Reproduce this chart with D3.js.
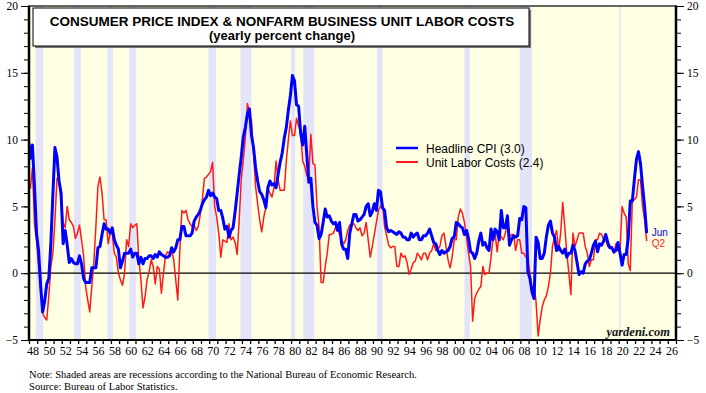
<!DOCTYPE html>
<html>
<head>
<meta charset="utf-8">
<script src="https://cdn.jsdelivr.net/npm/d3@7"></script>
<style>
  body { margin: 0; background: #fff; }
</style>
</head>
<body>
<div id="chart"></div>
<script>
// data: headline CPI (y/y %), sampled Mar/Jun/Sep/Dec, starting Dec 1947
const cpiStart = 1947 + 11 / 12;
const cpiStepMonths = 3;
const cpi = [
  10.1,
  8.6, 9.6, 6.5, 3.0,      // 1948
  1.7, -0.9, -2.9, -2.1,   // 1949
  -0.8, -0.4, 2.2, 5.9,    // 1950
  9.4, 8.7, 6.9, 6.0,      // 1951
  2.2, 3.2, 2.1, 0.8,      // 1952
  1.1, 0.8, 0.7, 0.7,      // 1953
  1.3, 0.7, -0.4, -0.7,    // 1954
  -0.7, -0.7, 0.4, 0.4,    // 1955
  0.4, 1.9, 2.0, 2.9,      // 1956
  3.7, 3.3, 3.3, 3.0,      // 1957
  3.4, 2.5, 2.1, 1.8,      // 1958
  0.4, 0.9, 1.5, 1.5,      // 1959
  1.5, 1.8, 1.2, 1.5,      // 1960
  1.5, 0.7, 1.2, 0.7,      // 1961
  1.1, 1.1, 1.3, 1.3,      // 1962
  1.1, 1.4, 1.2, 1.6,      // 1963
  1.4, 1.3, 1.2, 1.2,      // 1964
  1.3, 1.9, 1.6, 1.9,      // 1965
  2.5, 2.5, 3.5, 3.5,      // 1966
  2.8, 2.8, 2.8, 3.0,      // 1967
  3.9, 4.2, 4.4, 4.7,      // 1968
  5.2, 5.5, 5.7, 6.2,      // 1969
  5.8, 6.0, 5.7, 5.6,      // 1970
  4.7, 4.7, 4.1, 3.3,      // 1971
  3.5, 2.7, 3.2, 3.4,      // 1972
  4.6, 6.0, 7.4, 8.7,      // 1973
  10.2, 10.9, 11.9, 12.3,  // 1974
  10.3, 9.4, 7.9, 6.9,     // 1975
  6.1, 5.9, 5.5, 4.9,      // 1976
  6.4, 6.9, 6.6, 6.7,      // 1977
  6.4, 7.4, 8.3, 9.0,      // 1978
  10.1, 10.9, 12.2, 13.3,  // 1979
  14.8, 14.4, 12.6, 12.5,  // 1980
  10.5, 9.6, 11.0, 8.9,    // 1981
  6.8, 7.1, 5.0, 3.8,      // 1982
  3.6, 2.6, 2.9, 3.8,      // 1983
  4.8, 4.2, 4.3, 3.9,      // 1984
  3.7, 3.8, 3.2, 3.8,      // 1985
  2.2, 1.8, 1.8, 1.1,      // 1986
  3.0, 3.7, 4.4, 4.4,      // 1987
  3.9, 4.0, 4.2, 4.4,      // 1988
  5.0, 5.2, 4.3, 4.6,      // 1989
  5.2, 4.7, 6.2, 6.1,      // 1990
  4.9, 4.7, 3.4, 3.1,      // 1991
  3.2, 3.1, 3.0, 2.9,      // 1992
  3.1, 3.0, 2.7, 2.7,      // 1993
  2.5, 2.5, 3.0, 2.7,      // 1994
  2.9, 3.0, 2.5, 2.5,      // 1995
  2.8, 2.8, 3.0, 3.3,      // 1996
  2.8, 2.3, 2.2, 1.7,      // 1997
  1.4, 1.7, 1.5, 1.6,      // 1998
  1.7, 2.0, 2.6, 2.7,      // 1999
  3.8, 3.7, 3.5, 3.4,      // 2000
  2.9, 3.2, 2.6, 1.6,      // 2001
  1.5, 1.1, 1.5, 2.4,      // 2002
  3.0, 2.1, 2.3, 1.9,      // 2003
  1.7, 3.3, 2.5, 3.3,      // 2004
  3.1, 2.5, 4.7, 3.4,      // 2005
  3.4, 4.3, 2.1, 2.5,      // 2006
  2.8, 2.7, 2.8, 4.1,      // 2007
  4.0, 5.0, 4.9, 0.1,      // 2008
  -0.4, -1.4, -1.9, 2.7,   // 2009
  2.3, 1.1, 1.1, 1.5,      // 2010
  2.7, 3.6, 3.9, 3.0,      // 2011
  2.7, 1.7, 2.0, 1.7,      // 2012
  1.5, 1.8, 1.2, 1.5,      // 2013
  1.5, 2.1, 1.7, 0.8,      // 2014
  -0.1, 0.1, 0.0, 0.7,     // 2015
  0.9, 1.0, 1.5, 2.1,      // 2016
  2.4, 1.6, 2.2, 2.1,      // 2017
  2.4, 2.9, 2.3, 1.9,      // 2018
  1.9, 1.6, 1.7, 2.3,      // 2019
  1.5, 0.6, 1.4, 1.4,      // 2020
  2.6, 5.4, 5.4, 7.0,      // 2021
  8.5, 9.1, 8.2, 6.5,      // 2022
  5.0, 3.0                 // 2023
];

// data: nonfarm business unit labor costs (y/y %), quarterly from Q1 1948
const ulcStart = 1948 + 2 / 12;
const ulcStepMonths = 3;
const ulc = [
  6.3, 7.9, 3.7, 2.5,      // 1948
  0.5, -1.2, -3.0, -3.3,   // 1949
  -3.5, -1.7, 0.5, 1.5,    // 1950
  4.0, 7.1, 6.9, 5.5,      // 1951
  3.8, 3.4, 5.0, 4.0,      // 1952
  3.8, 3.5, 2.6, 3.0,      // 1953
  3.6, 2.5, 1.3, -1.0,     // 1954
  -2.0, -2.9, -1.0, 0.8,   // 1955
  3.5, 6.5, 7.2, 6.0,      // 1956
  4.0, 4.0, 2.2, 3.0,      // 1957
  3.0, 1.5, 1.2, 0.0,      // 1958
  -0.5, -0.9, 0.0, 2.5,    // 1959
  2.0, 3.7, 3.4, 3.6,      // 1960
  3.7, 1.0, -0.5, -2.6,    // 1961
  -1.8, -0.5, 0.1, 1.0,    // 1962
  0.5, -0.8, 0.5, 0.3,     // 1963
  -1.5, 0.0, 1.3, 1.6,     // 1964
  1.5, 1.7, 1.0, -0.5,     // 1965
  -2.0, 1.7, 4.7, 4.5,     // 1966
  4.7, 4.0, 3.7, 3.5,      // 1967
  3.6, 3.2, 3.5, 4.4,      // 1968
  5.5, 7.1, 7.2, 7.4,      // 1969
  7.6, 8.3, 5.0, 4.2,      // 1970
  3.0, 1.2, 2.5, 2.4,      // 1971
  2.3, 3.7, 2.5, 2.7,      // 1972
  2.3, 1.4, 4.0, 7.0,      // 1973
  8.5, 10.2, 12.7, 12.0,   // 1974
  11.4, 9.0, 6.5, 5.2,     // 1975
  4.0, 3.1, 4.2, 4.9,      // 1976
  6.4, 6.0, 5.7, 6.4,      // 1977
  8.4, 7.0, 6.2, 6.2,      // 1978
  6.2, 8.4, 10.0, 11.4,    // 1979
  10.3, 10.3, 11.6, 11.0,  // 1980
  10.6, 8.4, 8.0, 7.3,     // 1981
  7.3, 10.4, 8.2, 8.1,     // 1982
  5.0, 3.5, -0.7, -0.7,    // 1983
  0.5, 1.5, 2.9, 2.9,      // 1984
  3.0, 3.4, 3.4, 2.9,      // 1985
  2.5, 2.2, 2.5, 3.2,      // 1986
  3.6, 3.7, 3.7, 3.4,      // 1987
  3.2, 3.4, 2.8, 3.0,      // 1988
  3.8, 2.5, 1.2, 2.0,      // 1989
  2.9, 3.8, 4.7, 5.0,      // 1990
  5.2, 3.5, 2.8, 2.1,      // 1991
  1.9, 2.0, 2.0, 0.5,      // 1992
  0.5, 1.5, 1.2, 1.3,      // 1993
  0.8, -0.1, 0.3, 0.8,     // 1994
  0.9, 1.5, 1.3, 1.0,      // 1995
  1.5, 1.5, 1.0, 1.5,      // 1996
  1.7, 2.2, 1.7, 1.8,      // 1997
  2.0, 2.8, 3.0, 2.0,      // 1998
  1.0, 0.4, 1.2, 2.5,      // 1999
  2.5, 4.2, 4.8, 4.5,      // 2000
  3.8, 2.7, 1.5, 0.5,      // 2001
  -3.6, -1.9, -1.5, -1.2,  // 2002
  -1.0, 0.5, -0.1, 0.0,    // 2003
  0.0, 1.2, 2.7, 2.9,      // 2004
  1.6, 3.0, 2.7, 2.5,      // 2005
  3.0, 4.0, 2.7, 2.9,      // 2006
  2.9, 1.7, 2.5, 2.5,      // 2007
  1.5, 1.5, 1.2, 1.0,      // 2008
  0.0, -1.5, -0.7, -2.2,   // 2009
  -4.7, -3.5, -2.5, -2.0,  // 2010
  -1.7, -1.0, 0.0, 2.0,    // 2011
  2.7, 3.2, 1.7, 3.0,      // 2012
  5.3, 3.5, 1.5, 0.0,      // 2013
  -1.6, 3.0, 2.0, 2.5,     // 2014
  3.0, 3.0, 3.0, 2.0,      // 2015
  1.5, 0.5, 1.0, 1.0,      // 2016
  2.5, 2.5, 3.0, 2.9,      // 2017
  2.5, 2.5, 2.0, 2.0,      // 2018
  2.0, 1.5, 2.2, 1.7,      // 2019
  1.7, 5.0, 4.5, 4.2,      // 2020
  0.7, 0.2, 5.5, 5.5,      // 2021
  5.7, 7.0, 7.0, 5.0,      // 2022
  4.0, 2.4                 // 2023
];

// NBER recessions, [start, end] as decimal years
const recessionStarts = [1948.83, 1953.5, 1957.58, 1960.25, 1969.92, 1973.83, 1980.0, 1981.5, 1990.5, 2001.17, 2007.92, 2020.08];
const recessionEnds   = [1949.75, 1954.33, 1958.25, 1961.08, 1970.83, 1975.17, 1980.5, 1982.83, 1991.17, 2001.83, 2009.42, 2020.25];

const yearTicks = d3.range(1948, 2028);
const yearLabels = d3.range(1948, 2027, 2);
const yMajor = [-5, 0, 5, 10, 15, 20];
const yMinor = d3.range(-5, 21);

const seriesNames = ["Headline CPI (3.0)", "Unit Labor Costs (2.4)"];
const seriesColors = ["#0000ff", "#ff1a1a"];
const endLabels = ["Jun", "Q2"];

// sizes
const width = 706, height = 393;
const margin = {top: 6, right: 30, bottom: 53, left: 29};
const plotW = width - margin.left - margin.right,
      plotH = height - margin.top - margin.bottom;

let svg = d3.select("#chart")
    .append("svg")
    .attr("width", width)
    .attr("height", height)
    .style("font-family", "'Liberation Serif', 'Times New Roman', serif");

let x = d3.scaleLinear().domain([1948, 2027]).range([margin.left, margin.left + plotW]);
let y = d3.scaleLinear().domain([-5, 20]).range([margin.top + plotH, margin.top]);

svg.append("defs").append("clipPath").attr("id", "plotclip")
  .append("rect")
    .attr("x", margin.left).attr("y", margin.top)
    .attr("width", plotW).attr("height", plotH);

// background
svg.append("rect")
    .attr("x", margin.left).attr("y", margin.top)
    .attr("width", plotW).attr("height", plotH)
    .style("fill", "#ffffe3");

// recession bands
svg.append("g").selectAll("rect")
  .data(recessionStarts)
  .enter().append("rect")
    .attr("x", d => x(d))
    .attr("y", margin.top)
    .attr("width", (d, i) => x(recessionEnds[i]) - x(d))
    .attr("height", plotH)
    .style("fill", "#e3e3fa");

// zero line
svg.append("line")
    .attr("x1", margin.left).attr("x2", margin.left + plotW)
    .attr("y1", y(0)).attr("y2", y(0))
    .style("stroke", "#000").style("stroke-width", 1.2);

// series
function toPoints(values, start, stepMonths) {
  return values.map((v, i) => ({t: start + i * stepMonths / 12, v: v}));
}
const cpiPts = toPoints(cpi, cpiStart, cpiStepMonths);
const ulcPts = toPoints(ulc, ulcStart, ulcStepMonths);

let line = d3.line().x(d => x(d.t)).y(d => y(d.v));

let lines = svg.append("g").attr("clip-path", "url(#plotclip)");
lines.append("path")
    .datum(ulcPts)
    .attr("d", line)
    .style("fill", "none")
    .style("stroke", seriesColors[1])
    .style("stroke-width", 1.5)
    .style("stroke-linejoin", "round");
lines.append("path")
    .datum(cpiPts)
    .attr("d", line)
    .style("fill", "none")
    .style("stroke", seriesColors[0])
    .style("stroke-width", 3)
    .style("stroke-linejoin", "round");

// end labels
const lastPts = [cpiPts[cpiPts.length - 1], ulcPts[ulcPts.length - 1]];
svg.selectAll(".endlab")
  .data(endLabels)
  .enter().append("text")
    .attr("class", "endlab")
    .attr("x", (d, i) => x(lastPts[i].t) + 5)
    .attr("y", (d, i) => y(lastPts[0].v) + 3 + i * 10.5)
    .style("font-family", "Arial, 'Liberation Sans', sans-serif")
    .style("font-size", "10px")
    .style("fill", (d, i) => seriesColors[i])
    .text(d => d);

// frame top
svg.append("line")
    .attr("x1", margin.left).attr("x2", margin.left + plotW)
    .attr("y1", margin.top).attr("y2", margin.top)
    .style("stroke", "#333").style("stroke-width", 1.5);

// y axes
function yAxis(side) {
  let g = svg.append("g");
  let ax = side == "left" ? d3.axisLeft(y) : d3.axisRight(y);
  let xpos = side == "left" ? margin.left : margin.left + plotW;
  g.attr("transform", "translate(" + xpos + ",0)")
    .call(ax.tickValues(yMinor).tickSize(5).tickFormat(""));
  g.select(".domain").remove();
  let g2 = svg.append("g")
    .attr("transform", "translate(" + xpos + ",0)")
    .call((side == "left" ? d3.axisLeft(y) : d3.axisRight(y))
      .tickValues(yMajor).tickSize(8).tickPadding(3).tickFormat(d3.format("d")));
  g2.select(".domain").remove();
  g2.selectAll("text").style("font-size", "11.5px")
    .style("font-family", "'Liberation Serif', 'Times New Roman', serif");
  svg.append("line")
    .attr("x1", xpos).attr("x2", xpos)
    .attr("y1", margin.top - 0.5).attr("y2", margin.top + plotH + 1)
    .style("stroke", "#000").style("stroke-width", 2.5);
}
yAxis("left");
yAxis("right");

// x axis
let gx = svg.append("g")
    .attr("transform", "translate(0," + (margin.top + plotH) + ")")
    .call(d3.axisBottom(x).tickValues(yearTicks).tickSize(4).tickFormat(""));
gx.select(".domain").remove();
gx.selectAll("line").style("stroke-width", 1.3);
svg.append("line")
    .attr("x1", margin.left).attr("x2", margin.left + plotW)
    .attr("y1", margin.top + plotH).attr("y2", margin.top + plotH)
    .style("stroke", "#000").style("stroke-width", 2);

svg.append("g").selectAll("text")
  .data(yearLabels)
  .enter().append("text")
    .attr("x", d => x(d + 0.5))
    .attr("y", margin.top + plotH + 15)
    .attr("text-anchor", "middle")
    .style("font-size", "12px")
    .text(d => d3.format("02d")(d % 100));

// title box
svg.append("rect")
    .attr("x", 35).attr("y", 10)
    .attr("width", 496).attr("height", 38)
    .style("fill", "#777");
svg.append("rect")
    .attr("x", 33).attr("y", 8)
    .attr("width", 496).attr("height", 38)
    .style("fill", "#fff")
    .style("stroke", "#000").style("stroke-width", 1);
svg.append("text")
    .attr("x", 282).attr("y", 25.5)
    .attr("text-anchor", "middle")
    .style("font-family", "Arial, 'Liberation Sans', sans-serif")
    .style("font-weight", "bold")
    .style("font-size", "13.5px")
    .text("CONSUMER PRICE INDEX & NONFARM BUSINESS UNIT LABOR COSTS");
svg.append("text")
    .attr("x", 282).attr("y", 39.5)
    .attr("text-anchor", "middle")
    .style("font-family", "Arial, 'Liberation Sans', sans-serif")
    .style("font-weight", "bold")
    .style("font-size", "13px")
    .text("(yearly percent change)");

// legend
let legend = svg.append("g").selectAll("g")
  .data(seriesNames)
  .enter().append("g")
    .attr("transform", (d, i) => "translate(396," + (148 + i * 14) + ")");
legend.append("line")
    .attr("x1", 0).attr("x2", 22)
    .style("stroke", (d, i) => seriesColors[i])
    .style("stroke-width", (d, i) => i == 0 ? 2.5 : 2);
legend.append("text")
    .attr("x", 30).attr("y", 4.5)
    .style("font-family", "Arial, 'Liberation Sans', sans-serif")
    .style("font-size", "12px")
    .text(d => d);

// watermark
svg.append("text")
    .attr("x", 670).attr("y", 335.5)
    .attr("text-anchor", "end")
    .style("font-weight", "bold")
    .style("font-style", "italic")
    .style("font-size", "12.5px")
    .style("fill", "#111")
    .text("yardeni.com");

// notes
svg.append("text")
    .attr("x", 29).attr("y", 378)
    .style("font-size", "10.6px")
    .text("Note: Shaded areas are recessions according to the National Bureau of Economic Research.");
svg.append("text")
    .attr("x", 29).attr("y", 390)
    .style("font-size", "10.6px")
    .text("Source: Bureau of Labor Statistics.");
</script>
</body>
</html>
